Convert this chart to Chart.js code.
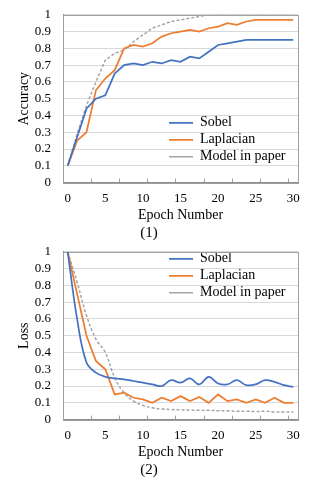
<!DOCTYPE html>
<html>
<head>
<meta charset="utf-8">
<script src="https://cdn.jsdelivr.net/npm/chart.js@4.4.1/dist/chart.umd.min.js"></script>
<style>
  body { margin: 0; background: #fff; overflow: hidden; }
  .box { position: absolute; left: 0; width: 317px; height: 250px; }
</style>
</head>
<body>
<div class="box" style="top:-5px"><canvas id="acc"></canvas></div>
<div class="box" style="top:232px"><canvas id="loss"></canvas></div>
<script>
// 25 points per run, labelled 0..30 every 4th point
const epochs = ['0', '', '', '', '5', '', '', '', '10', '', '', '', '15', '', '', '', '20', '', '', '', '25', '', '', '', '30'];
const yTicks = [0, 0.1, 0.2, 0.3, 0.4, 0.5, 0.6, 0.7, 0.8, 0.9, 1];

const accSobel = [0.10, 0.27, 0.44, 0.50, 0.52, 0.65, 0.70, 0.71, 0.70, 0.72, 0.71, 0.73, 0.72, 0.75, 0.74, 0.78, 0.82, 0.83, 0.84, 0.85, 0.85, 0.85, 0.85, 0.85, 0.85];
const accLaplacian = [0.10, 0.25, 0.30, 0.55, 0.62, 0.67, 0.80, 0.82, 0.81, 0.83, 0.87, 0.89, 0.90, 0.91, 0.90, 0.92, 0.93, 0.95, 0.94, 0.96, 0.97, 0.97, 0.97, 0.97, 0.97];
const accPaper = [0.10, 0.29, 0.46, 0.60, 0.73, 0.77, 0.79, 0.84, 0.88, 0.92, 0.94, 0.96, 0.97, 0.98, 0.99, 1.00, 1.00, 1.00, 1.00, 1.00, 1.00, 1.00, 1.00, 1.00, 1.00];

const lossSobel = [1.00, 0.60, 0.34, 0.28, 0.255, 0.245, 0.24, 0.23, 0.22, 0.21, 0.20, 0.235, 0.22, 0.245, 0.21, 0.255, 0.215, 0.21, 0.235, 0.205, 0.21, 0.235, 0.225, 0.205, 0.195];
const lossLaplacian = [1.00, 0.75, 0.50, 0.35, 0.30, 0.15, 0.16, 0.13, 0.12, 0.10, 0.13, 0.11, 0.14, 0.11, 0.135, 0.10, 0.15, 0.11, 0.12, 0.10, 0.12, 0.10, 0.13, 0.10, 0.10];
const lossPaper = [1.00, 0.82, 0.62, 0.48, 0.40, 0.25, 0.16, 0.11, 0.085, 0.07, 0.063, 0.06, 0.058, 0.057, 0.055, 0.055, 0.053, 0.052, 0.05, 0.05, 0.048, 0.05, 0.045, 0.045, 0.045];

const BLUE = '#4472c4', ORANGE = '#ed7d31', GREY = '#a5a5a5';

Chart.defaults.font.family = "'Liberation Serif', 'Times New Roman', serif";
Chart.defaults.color = '#000';

// move the legend to a spot inside the plot
const legendSpot = {
  id: 'legendSpot',
  afterLayout(chart, args, opts) {
    const lg = chart.legend, a = chart.chartArea;
    lg.left = a.left + opts.x;
    lg.top = a.top + opts.y;
    lg.right = lg.left + lg.width;
    lg.bottom = lg.top + lg.height;
  }
};

// grey box round the plot area
const frame = {
  id: 'frame',
  beforeDatasetsDraw(chart) {
    const a = chart.chartArea, c = chart.ctx;
    c.save();
    c.strokeStyle = '#a0a0a0';
    c.lineWidth = 1;
    c.strokeRect(Math.round(a.left) + 0.5, Math.round(a.top) + 0.5, Math.round(a.right - a.left), Math.round(a.bottom - a.top));
    c.restore();
  }
};

function makeChart(id, yTitle, caption, series, smooth, spot) {
  return new Chart(document.getElementById(id), {
    type: 'line',
    data: {
      labels: epochs,
      datasets: [
        { label: 'Sobel', data: series[0], borderColor: BLUE, backgroundColor: BLUE, borderWidth: 1.75, pointRadius: 0, tension: smooth ? 0.4 : 0 },
        { label: 'Laplacian', data: series[1], borderColor: ORANGE, backgroundColor: ORANGE, borderWidth: 1.75, pointRadius: 0, tension: 0 },
        { label: 'Model in paper', data: series[2], borderColor: GREY, backgroundColor: GREY, borderWidth: 1.5, borderDash: [3, 2], pointRadius: 0, tension: smooth ? 0.4 : 0 }
      ]
    },
    options: {
      responsive: true,
      maintainAspectRatio: false,
      animation: false,
      layout: { padding: { top: 6, right: 19, left: 0, bottom: 0 } },
      scales: {
        x: {
          type: 'category',
          offset: true,
          grid: {
            offset: true,
            drawOnChartArea: false,
            tickLength: -4,
            tickColor: (c) => (c.index % 3 === 0 ? '#a0a0a0' : 'transparent')
          },
          border: { color: '#8c8c8c' },
          ticks: { autoSkip: false, maxRotation: 0, padding: 12, font: { size: 13 } },
          title: { display: true, text: 'Epoch Number', font: { size: 14 }, padding: { top: -11, bottom: 0 } }
        },
        y: {
          min: 0,
          max: 1,
          afterBuildTicks: (s) => { s.ticks = yTicks.map((v) => ({ value: v })); },
          afterFit: (s) => { s.width = 63; },
          grid: { color: '#d9d9d9', drawTicks: false },
          border: { color: '#8c8c8c' },
          ticks: { autoSkip: false, padding: 12, font: { size: 13 }, callback: (v) => String(Math.round(v * 10) / 10) },
          title: { display: true, text: yTitle, font: { size: 14 }, padding: { top: 16, bottom: 0 } }
        }
      },
      plugins: {
        legend: {
          position: 'chartArea',
          align: 'start',
          labels: {
            usePointStyle: true,
            pointStyle: 'line',
            pointStyleWidth: 24,
            padding: 3,
            color: '#000',
            font: { size: 14 }
          }
        },
        legendSpot: spot,
        title: {
          display: true,
          text: caption,
          position: 'bottom',
          color: '#000',
          font: { size: 15, weight: 'normal' },
          padding: { top: 0, bottom: 3 }
        },
        tooltip: { enabled: false }
      }
    },
    plugins: [legendSpot, frame]
  });
}

makeChart('acc', 'Accuracy', '(1)', [accSobel, accLaplacian, accPaper], false, { x: 103, y: 98 });
makeChart('loss', 'Loss', '(2)', [lossSobel, lossLaplacian, lossPaper], true, { x: 103, y: -3 });
</script>
</body>
</html>
